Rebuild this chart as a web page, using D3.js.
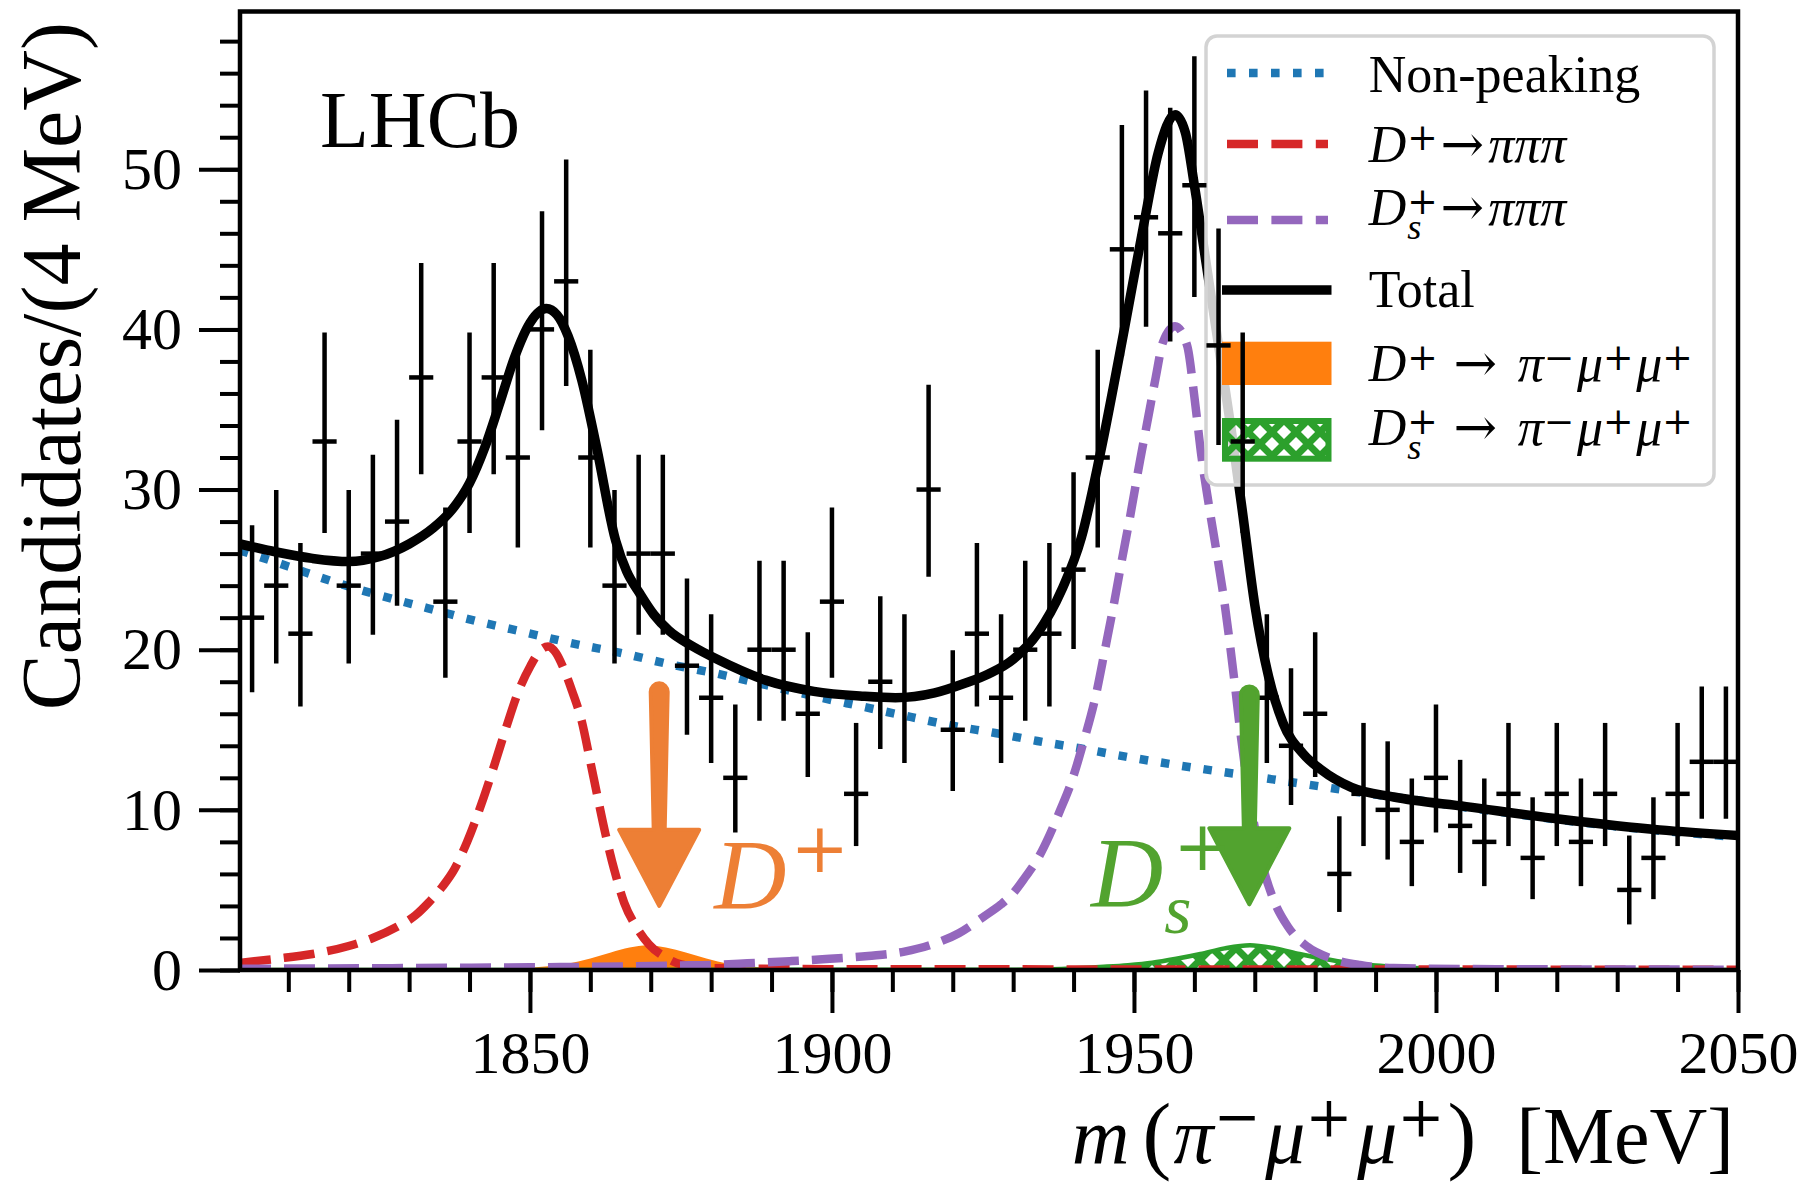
<!DOCTYPE html>
<html>
<head>
<meta charset="utf-8">
<script src="https://d3js.org/d3.v7.min.js"></script>
<style>
  body { margin: 0; background: #fff; }
  svg text { font-family: "Liberation Serif", "DejaVu Serif", serif; }
</style>
</head>
<body>
<div id="chart"></div>
<script>
// ---- data ----
// candidates per 4 MeV bin, bins from 1802 to 2050 MeV
const binCenters = d3.range(1804, 2049, 4);
const counts = [22, 24, 21, 33, 24, 26, 28, 37, 23, 33, 37, 32, 40, 43, 32, 24, 26, 26, 19, 17,
  12, 20, 20, 16, 23, 11, 18, 17, 30, 15, 21, 17, 20, 21, 25, 32, 45, 47, 46, 49,
  39, 33, 17, 14, 16, 6, 11, 10, 8, 12, 9, 8, 11, 7, 11, 8, 11, 5, 7, 11, 13, 13];

// fit curves, [mass, candidates] sampled from the plot
const totalFit = [[1802, 26.6], [1808, 26.1], [1814, 25.7], [1820, 25.5], [1825, 25.8], [1830, 26.6],
  [1834, 27.6], [1837, 28.7], [1840, 30.4], [1842.5, 32.6], [1845, 35.4], [1847.5, 38.3], [1850, 40.4],
  [1852.7, 41.3], [1854.5, 40.9], [1856.3, 39.6], [1858.6, 36.8], [1861, 32.7], [1864.2, 26.8],
  [1866, 24.9], [1868.2, 23.5], [1870.5, 22.2], [1873, 21.2], [1877, 20.2], [1881, 19.4], [1889, 18.1],
  [1897, 17.4], [1905, 17.1], [1910.5, 17.0], [1917, 17.3], [1922, 17.9], [1926, 18.5], [1930, 19.4],
  [1934, 21.0], [1938, 23.7], [1941.3, 27.0], [1944.4, 32.2], [1948.4, 40.0], [1951.6, 46.5],
  [1954, 51.0], [1956.8, 53.4], [1958.5, 52.3], [1960, 49.0], [1962, 44.0], [1964, 39.0], [1966, 34.0],
  [1968, 28.5], [1970, 22.8], [1972.3, 18.3], [1974.7, 15.4], [1978, 13.5], [1981, 12.5], [1986, 11.4],
  [1993, 10.8], [2005, 10.2], [2021, 9.4], [2037, 8.75], [2050, 8.4]];

const nonPeaking = [[1802, 26.2], [1810, 25.2], [1817, 24.3], [1825, 23.4], [1833, 22.6], [1841, 21.8],
  [1849, 21.1], [1857, 20.4], [1865, 19.8], [1873, 19.1], [1881, 18.5], [1889, 17.8], [1897, 17.1],
  [1905, 16.45], [1913, 15.8], [1920, 15.25], [1927, 14.8], [1934, 14.3], [1941, 13.85], [1949, 13.3],
  [1957, 12.8], [1965, 12.35], [1973, 11.9], [1981, 11.45], [1989, 11.0], [1997, 10.6], [2005, 10.15],
  [2013, 9.75], [2021, 9.35], [2029, 9.0], [2037, 8.7], [2045, 8.45], [2050, 8.3]];

const dPiPiPi = [[1802, 0.45], [1808, 0.7], [1814, 1.0], [1820, 1.5], [1824, 2.0], [1828, 2.7], [1831, 3.4],
  [1833.2, 4.2], [1835.5, 5.2], [1837.5, 6.3], [1839.6, 8.0], [1842, 10.4], [1844.2, 12.9], [1846.2, 15.3],
  [1848.1, 17.4], [1850.1, 19.0], [1851.6, 19.9], [1853, 20.2], [1854.3, 19.8], [1855.5, 18.9],
  [1857, 17.4], [1858.6, 15.5], [1860, 13.0], [1861.2, 10.8], [1862.5, 8.5], [1864, 6.2], [1865.6, 4.2],
  [1867.6, 2.7], [1869.7, 1.6], [1872.4, 0.8], [1875, 0.35], [1880, 0.12], [1900, 0.05], [2050, 0.02]];

const dsPiPiPi = [[1802, 0.08], [1830, 0.12], [1850, 0.17], [1865, 0.22], [1875, 0.28], [1880, 0.32],
  [1886, 0.42], [1893, 0.55], [1899, 0.68], [1906, 0.88], [1912, 1.15], [1917, 1.65], [1921, 2.3],
  [1925, 3.3], [1928, 4.1], [1930, 4.8], [1932, 5.8], [1934, 6.9], [1936, 8.4], [1937.7, 9.9],
  [1939.7, 11.8], [1941.7, 14.3], [1943.6, 17.0], [1945.2, 20.0], [1946.8, 23.1], [1948, 25.6],
  [1949.4, 28.4], [1951, 31.8], [1952.4, 34.6], [1953.6, 37.0], [1954.8, 39.2], [1956.8, 40.2],
  [1958.8, 39.0], [1960, 35.8], [1961.2, 32.0], [1962.5, 28.8], [1963.8, 25.8], [1965, 22.9], [1966, 20.0],
  [1966.8, 17.5], [1967.6, 14.9], [1968.7, 11.8], [1970, 8.9], [1971.5, 6.25], [1973.1, 4.4],
  [1975.5, 2.7], [1978.7, 1.46], [1982.6, 0.73], [1987.4, 0.31], [1993, 0.12], [2010, 0.05], [2050, 0.02]];

const dSignal = [[1802, 0], [1835, 0.02], [1842, 0.05], [1848, 0.1], [1852, 0.2], [1856, 0.38], [1860, 0.72],
  [1863.4, 1.1], [1866.5, 1.4], [1869.5, 1.55], [1872.5, 1.4], [1875.8, 1.1], [1879.2, 0.72], [1883, 0.38],
  [1887, 0.2], [1891, 0.1], [1897, 0.05], [1905, 0.02], [2050, 0]];

const dsSignal = [[1802, 0], [1930, 0.02], [1938, 0.07], [1945, 0.2], [1949, 0.3], [1953, 0.45], [1957, 0.7],
  [1961, 1.0], [1965, 1.35], [1969.2, 1.55], [1973.4, 1.35], [1977.4, 1.0], [1981.4, 0.7], [1985.4, 0.45],
  [1989.4, 0.3], [1993.4, 0.2], [2000, 0.07], [2008, 0.02], [2050, 0]];

const xTicks = [1850, 1900, 1950, 2000, 2050];
const yTicks = [0, 10, 20, 30, 40, 50];

// arrows pointing at the signal peaks: mass, top, head base, tip (in candidates)
const arrows = [
  { mass: 1871.4, top: 17.9, base: 8.75, tip: 4.0, color: "#ED7F35" },
  { mass: 1969.1, top: 17.7, base: 8.85, tip: 4.1, color: "#52A32F" }
];
const peakLabels = [
  { mass: 1880.5, val: 3.85, color: "#ED7F35", sub: false },
  { mass: 1942.9, val: 4.0, color: "#52A32F", sub: true }
];

// ---- layout ----
const W = 1819, H = 1182;
const textFont = '"Liberation Serif", "DejaVu Serif", serif';
const symFont = '"DejaVu Serif", serif';
const C = { blue: "#1f77b4", red: "#d62728", purple: "#9467bd", orange: "#ff7f0e", green: "#2ca02c" };

const svg = d3.select("#chart").append("svg")
  .attr("width", W).attr("height", H)
  .style("background", "#fff");

const x = d3.scaleLinear().domain([1802, 2050]).range([240, 1738]);
const y = d3.scaleLinear().domain([0, 59.85]).range([970, 11.5]);

const defs = svg.append("defs");
defs.append("clipPath").attr("id", "plotclip")
  .append("rect").attr("x", 240).attr("y", 11.5).attr("width", 1498).attr("height", 958.5);

// crosshatch for the Ds signal
const hatch = defs.append("pattern").attr("id", "hatch")
  .attr("patternUnits", "userSpaceOnUse").attr("width", 24).attr("height", 24);
hatch.append("path")
  .attr("d", "M0,0L24,24 M-12,12L12,36 M12,-12L36,12 M0,24L24,0 M-12,12L12,-12 M12,36L36,12")
  .attr("stroke", C.green).attr("stroke-width", 7);

// ---- axes ----
function styleAxis(g) {
  g.select(".domain").remove();
  g.selectAll(".tick line").attr("stroke", "#000").attr("stroke-width", 4);
  g.selectAll(".tick text").attr("fill", "#000");
  g.attr("font-size", 60).attr("font-family", textFont);
}

svg.append("g").attr("transform", "translate(0,970)")
  .call(d3.axisBottom(x).tickValues(d3.range(1810, 2051, 10)).tickSize(22).tickFormat(""))
  .call(styleAxis);
svg.append("g").attr("transform", "translate(0,970)")
  .call(d3.axisBottom(x).tickValues(xTicks).tickSize(43).tickPadding(17).tickFormat(d3.format("d")))
  .call(styleAxis);
svg.append("g").attr("transform", "translate(240,0)")
  .call(d3.axisLeft(y).tickValues(d3.range(0, 59, 2)).tickSize(20).tickFormat(""))
  .call(styleAxis);
svg.append("g").attr("transform", "translate(240,0)")
  .call(d3.axisLeft(y).tickValues(yTicks).tickSize(41).tickPadding(17))
  .call(styleAxis);

// ---- fit components ----
const plot = svg.append("g").attr("clip-path", "url(#plotclip)");
const line = d3.line().x(d => x(d[0])).y(d => y(d[1])).curve(d3.curveMonotoneX);
const area = d3.area().x(d => x(d[0])).y0(y(0)).y1(d => y(d[1])).curve(d3.curveMonotoneX);

plot.append("path").attr("d", area(dSignal)).attr("fill", C.orange);
plot.append("path").attr("d", area(dsSignal)).attr("fill", "url(#hatch)")
  .attr("stroke", C.green).attr("stroke-width", 4.5);
plot.append("path").attr("d", line(nonPeaking)).attr("fill", "none")
  .attr("stroke", C.blue).attr("stroke-width", 8.5).attr("stroke-dasharray", "8.5,13");
plot.append("path").attr("d", line(dPiPiPi)).attr("fill", "none")
  .attr("stroke", C.red).attr("stroke-width", 8.5).attr("stroke-dasharray", "31,13");
plot.append("path").attr("d", line(dsPiPiPi)).attr("fill", "none")
  .attr("stroke", C.purple).attr("stroke-width", 8.5).attr("stroke-dasharray", "31,13");
plot.append("path").attr("d", line(totalFit)).attr("fill", "none")
  .attr("stroke", "#000").attr("stroke-width", 9.5);

// ---- math-ish text helper ----
function mathText(g, x0, y0, parts, fs, color, supUp, subDown) {
  let cur = x0, anchorX = x0;
  parts.forEach(p => {
    const small = p.sup || p.sub;
    const size = small ? fs * 0.7 : fs * (p.scale || 1);
    const px = p.stack ? anchorX + (p.gap || 0) * fs : cur + (p.gap || 0) * fs;
    const py = y0 + (p.sup ? -supUp * fs : p.sub ? subDown * fs : 0);
    const t = g.append("text").attr("x", px).attr("y", py)
      .attr("font-size", size).attr("fill", color)
      .attr("font-style", p.it ? "italic" : "normal")
      .style("font-family", p.sym ? symFont : textFont)
      .text(p.t);
    const w = t.node().getComputedTextLength();
    if (!p.stack) anchorX = px;
    cur = Math.max(cur, px + w);
  });
  return cur - x0;
}

// ---- legend ----
const lg = svg.append("g");
lg.append("rect").attr("x", 1206).attr("y", 36).attr("width", 508).attr("height", 449).attr("rx", 11)
  .attr("fill", "#fff").attr("fill-opacity", 0.8).attr("stroke", "#d3d3d3").attr("stroke-width", 3.5);
lg.append("line").attr("x1", 1227).attr("x2", 1325).attr("y1", 73).attr("y2", 73)
  .attr("stroke", C.blue).attr("stroke-width", 8.5).attr("stroke-dasharray", "8.6,13.4");
lg.append("line").attr("x1", 1227).attr("x2", 1328).attr("y1", 144).attr("y2", 144)
  .attr("stroke", C.red).attr("stroke-width", 8.5).attr("stroke-dasharray", "31,13.4");
lg.append("line").attr("x1", 1227).attr("x2", 1328).attr("y1", 220).attr("y2", 220)
  .attr("stroke", C.purple).attr("stroke-width", 8.5).attr("stroke-dasharray", "31,13.4");
lg.append("line").attr("x1", 1222).attr("x2", 1331.5).attr("y1", 290).attr("y2", 290)
  .attr("stroke", "#000").attr("stroke-width", 9.5);
lg.append("rect").attr("x", 1222).attr("y", 341.7).attr("width", 109.5).attr("height", 43.3)
  .attr("fill", C.orange);
lg.append("rect").attr("x", 1225).attr("y", 421).attr("width", 103.5).attr("height", 37.7)
  .attr("fill", "url(#hatch)").attr("stroke", C.green).attr("stroke-width", 6);

const LX = 1368.7, LF = 52;
const arrowTight = [{ t: "\u2192", sym: true, gap: 0.05 }, { t: "\u03c0\u03c0\u03c0", it: true, gap: 0.08 }];
const decayMuMu = [{ t: "\u2192", sym: true, gap: 0.3 }, { t: "\u03c0", it: true, gap: 0.4 },
  { t: "\u2212", sup: true, sym: true }, { t: "\u03bc", it: true, gap: 0.05 }, { t: "+", sup: true, sym: true },
  { t: "\u03bc", it: true, gap: 0.05 }, { t: "+", sup: true, sym: true }];
const dPlus = [{ t: "D", it: true }, { t: "+", sup: true, sym: true, gap: 0.02 }];
const dsPlus = [{ t: "D", it: true }, { t: "+", sup: true, sym: true, gap: 0.02 }, { t: "s", it: true, sub: true, stack: true }];

lg.append("text").attr("x", LX).attr("y", 91.7).attr("font-size", LF).text("Non-peaking");
mathText(lg, LX, 161.7, dPlus.concat(arrowTight), LF, "#000", 0.22, 0.26);
mathText(lg, LX, 225, dsPlus.concat(arrowTight), LF, "#000", 0.22, 0.26);
lg.append("text").attr("x", LX).attr("y", 306.7).attr("font-size", LF).text("Total");
mathText(lg, LX, 381, dPlus.concat(decayMuMu), LF, "#000", 0.22, 0.26);
mathText(lg, LX, 445, dsPlus.concat(decayMuMu), LF, "#000", 0.22, 0.26);

// ---- data points with Poisson error bars ----
function poissonInterval(n) {
  const lo = n === 0 ? 0 : n * Math.pow(1 - 1 / (9 * n) - 1 / (3 * Math.sqrt(n)), 3);
  const hi = n + 1 + Math.sqrt(n + 0.75);
  return [lo, hi];
}
const pts = binCenters.map((c, i) => ({ c, n: counts[i], iv: poissonInterval(counts[i]) }));
const dataG = svg.append("g").attr("stroke", "#000").attr("stroke-width", 4.5);
dataG.selectAll("line.v").data(pts).join("line").attr("class", "v")
  .attr("x1", d => x(d.c)).attr("x2", d => x(d.c))
  .attr("y1", d => y(d.iv[0])).attr("y2", d => y(d.iv[1]));
dataG.selectAll("line.h").data(pts).join("line").attr("class", "h")
  .attr("x1", d => x(d.c - 2)).attr("x2", d => x(d.c + 2))
  .attr("y1", d => y(d.n)).attr("y2", d => y(d.n));

// ---- arrows and labels ----
function arrowPath(cx, yTop, yBase, yTip, wTop, wBot, half) {
  return `M${cx - wTop / 2},${yTop + wTop / 2} A${wTop / 2},${wTop / 2} 0 0 1 ${cx + wTop / 2},${yTop + wTop / 2}` +
    ` L${cx + wBot / 2},${yBase} L${cx + half},${yBase} L${cx},${yTip} L${cx - half},${yBase} L${cx - wBot / 2},${yBase} Z`;
}
arrows.forEach(a => {
  svg.append("path")
    .attr("d", arrowPath(x(a.mass), y(a.top), y(a.base), y(a.tip), 17, 11, 40))
    .attr("fill", a.color).attr("stroke", a.color).attr("stroke-width", 4).attr("stroke-linejoin", "round");
});
peakLabels.forEach(l => {
  const parts = [{ t: "D", it: true }, { t: "+", sup: true, sym: true, gap: l.sub ? 0.1 : 0.04 }];
  if (l.sub) parts.push({ t: "s", it: true, sub: true, stack: true, gap: -0.09 });
  mathText(svg.append("g"), x(l.mass), y(l.val), parts, 100, l.color, 0.36, 0.27);
});

// ---- frame ----
svg.append("rect").attr("x", 240).attr("y", 11.5).attr("width", 1498).attr("height", 958.5)
  .attr("fill", "none").attr("stroke", "#000").attr("stroke-width", 4.5);

svg.append("text").attr("x", 320).attr("y", 147).attr("font-size", 80).text("LHCb");

// ---- axis titles ----
svg.append("text")
  .attr("transform", "translate(80,22) rotate(-90)")
  .attr("text-anchor", "end").attr("font-size", 84)
  .text("Candidates/(4 MeV)");

const xl = svg.append("g");
const xlW = mathText(xl, 0, 1163, [
  { t: "m", it: true }, { t: "(", scale: 1.08, gap: 0.16 }, { t: "\u03c0", it: true, gap: 0.03 },
  { t: "\u2212", sup: true, sym: true }, { t: "\u03bc", it: true, gap: 0.06 }, { t: "+", sup: true, sym: true },
  { t: "\u03bc", it: true, gap: 0.06 }, { t: "+", sup: true, sym: true }, { t: ")", scale: 1.08, gap: 0.04 },
  { t: "[MeV]", gap: 0.5 }
], 80, "#000", 0.34, 0.26);
xl.attr("transform", `translate(${1734 - xlW},0)`);
</script>
</body>
</html>
